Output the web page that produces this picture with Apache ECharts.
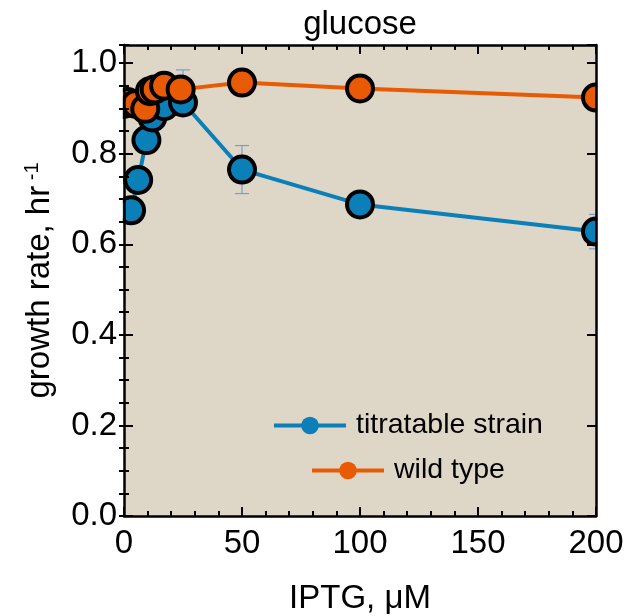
<!DOCTYPE html>
<html>
<head>
<meta charset="utf-8">
<script src="https://cdn.jsdelivr.net/npm/echarts@6/dist/echarts.min.js"></script>
<style>html,body{margin:0;padding:0;background:#fff}#c{width:624px;height:616px}</style>
</head>
<body>
<div id="c"></div>
<script>
// ---- data ----
const titleText = 'glucose';
const xTicks = [0, 50, 100, 150, 200];
const yTicks = [0.0, 0.2, 0.4, 0.6, 0.8, 1.0];

const titrX  = [3, 6, 9.5, 12, 17, 25, 50, 100, 200];
const titrY  = [0.675, 0.742, 0.830, 0.880, 0.905, 0.913, 0.765, 0.688, 0.628];
const titrLo = [0.670, 0.737, 0.824, 0.862, 0.898, 0.888, 0.712, 0.680, 0.590];
const titrHi = [0.680, 0.747, 0.836, 0.898, 0.912, 0.985, 0.818, 0.696, 0.666];

const wtX  = [0, 1.5, 5, 9, 11, 13, 17, 24, 50, 100, 200];
const wtY  = [0.910, 0.914, 0.910, 0.899, 0.938, 0.942, 0.950, 0.942, 0.957, 0.944, 0.924];
const wtLo = [0.905, 0.909, 0.905, 0.894, 0.933, 0.937, 0.945, 0.937, 0.952, 0.939, 0.919];
const wtHi = [0.915, 0.919, 0.915, 0.904, 0.943, 0.947, 0.955, 0.947, 0.962, 0.949, 0.929];

const seriesNames = ['titratable strain', 'wild type'];

// ---- styles ----
const FONT = 'Liberation Sans';
const BLUE = '#0b7fb7';
const ORANGE = '#e85a04';
const ERR = '#7d9acb';

const zip = (xs, ys) => xs.map((x, i) => [x, ys[i]]);
const errData = (xs, lo, hi) => xs.map((x, i) => [x, lo[i], hi[i]]);

function errRender(params, api) {
  const x = api.value(0);
  const p1 = api.coord([x, api.value(1)]);
  const p2 = api.coord([x, api.value(2)]);
  const w = 7;
  const st = { stroke: ERR, lineWidth: 1.2 };
  return { type: 'group', children: [
    { type: 'line', shape: { x1: p1[0], y1: p1[1], x2: p2[0], y2: p2[1] }, style: st },
    { type: 'line', shape: { x1: p1[0]-w, y1: p1[1], x2: p1[0]+w, y2: p1[1] }, style: st },
    { type: 'line', shape: { x1: p2[0]-w, y1: p2[1], x2: p2[0]+w, y2: p2[1] }, style: st }
  ]};
}

const chart = echarts.init(document.getElementById('c'), null, { renderer: 'canvas' });

const baseX = {
  type: 'value', min: xTicks[0], max: xTicks[xTicks.length-1], interval: 50, z: 150,
  axisLine: { show: true, onZero: false, lineStyle: { color: '#000', width: 2.5 } },
  axisTick: { show: true, inside: true, length: 9, lineStyle: { color: '#000', width: 2 } },
  minorTick: { show: true, splitNumber: 5, length: 5, lineStyle: { color: '#000', width: 2 } },
  splitLine: { show: false }
};
const baseY = {
  type: 'value', min: 0, max: 1.04, interval: 0.2, z: 150,
  axisLine: { show: true, onZero: false, lineStyle: { color: '#000', width: 2.5 } },
  axisTick: { show: true, inside: true, length: 9, lineStyle: { color: '#000', width: 2 } },
  splitLine: { show: false }
};
const minorY = {
  type: 'value', min: 0, max: 1.04, interval: 0.05, z: 150,
  axisLine: { show: false },
  axisTick: { show: true, inside: true, length: 5, lineStyle: { color: '#000', width: 2 } },
  axisLabel: { show: false },
  splitLine: { show: false }
};

const legendBase = {
  orient: 'horizontal', itemWidth: 72, itemHeight: 22,
  itemStyle: { borderWidth: 0 },
  lineStyle: { width: 4 },
  textStyle: { fontFamily: FONT, fontSize: 28.5, color: '#000', padding: [0, 0, 0, 5] }
};

const option = {
  animation: false,
  backgroundColor: '#ffffff',
  title: {
    text: titleText, left: 360, textAlign: 'center', top: 8, padding: 0,
    textStyle: { fontFamily: FONT, fontSize: 33, fontWeight: 'normal', color: '#000' }
  },
  grid: { left: 124, right: 28, top: 45, bottom: 100, show: true, backgroundColor: '#ded7c8',
    borderWidth: 0, containLabel: false, outerBoundsMode: 'none' },
  legend: [
    Object.assign({}, legendBase, { data: [seriesNames[0]], left: 267, top: 406 }),
    Object.assign({}, legendBase, { data: [seriesNames[1]], left: 305, top: 451 })
  ],
  xAxis: [
    Object.assign({}, baseX, {
      position: 'bottom',
      axisLabel: { show: true, fontFamily: FONT, fontSize: 33, color: '#000', margin: 11 },
      name: 'IPTG, μM', nameLocation: 'middle', nameGap: 66,
      nameTextStyle: { fontFamily: FONT, fontSize: 33, color: '#000' }
    }),
    Object.assign({}, baseX, { position: 'top', axisLabel: { show: false } })
  ],
  yAxis: [
    Object.assign({}, baseY, {
      position: 'left',
      axisLabel: { show: true, fontFamily: FONT, fontSize: 33, color: '#000', margin: 7,
        showMaxLabel: false, formatter: v => v.toFixed(1) },
      name: 'growth rate, hr{sup| -1}', nameLocation: 'middle', nameGap: 66,
      nameTextStyle: { fontFamily: FONT, fontSize: 33, color: '#000',
        rich: { sup: { fontFamily: FONT, fontSize: 20, color: '#000', verticalAlign: 'top', lineHeight: 36 } } }
    }),
    Object.assign({}, baseY, { position: 'right', axisLabel: { show: false } }),
    Object.assign({}, minorY, { position: 'left' }),
    Object.assign({}, minorY, { position: 'right' })
  ],
  graphic: [
    { type: 'rect', shape: { x: 597.2, y: 20, width: 40, height: 496 }, style: { fill: '#ffffff' }, z: 100 },
    { type: 'rect', shape: { x: 90, y: 45, width: 32.8, height: 471 }, style: { fill: '#ffffff' }, z: 100 }
  ],
  series: [
    {
      type: 'custom', name: 'titr-err', renderItem: errRender, data: errData(titrX, titrLo, titrHi),
      xAxisIndex: 0, yAxisIndex: 0, z: 1, silent: true
    },
    {
      type: 'custom', name: 'wt-err', renderItem: errRender, data: errData(wtX, wtLo, wtHi),
      xAxisIndex: 0, yAxisIndex: 0, z: 1, silent: true
    },
    {
      type: 'line', name: seriesNames[0], data: zip(titrX, titrY),
      xAxisIndex: 0, yAxisIndex: 0, z: 3,
      symbol: 'circle', symbolSize: 26, showAllSymbol: true, clip: false,
      lineStyle: { color: BLUE, width: 4 },
      itemStyle: { color: BLUE, borderColor: '#000', borderWidth: 4 }
    },
    {
      type: 'line', name: seriesNames[1], data: zip(wtX, wtY),
      xAxisIndex: 0, yAxisIndex: 0, z: 4,
      symbol: 'circle', symbolSize: 26, showAllSymbol: true, clip: false,
      lineStyle: { color: ORANGE, width: 4 },
      itemStyle: { color: ORANGE, borderColor: '#000', borderWidth: 4 }
    }
  ]
};
chart.setOption(option);
</script>
</body>
</html>
